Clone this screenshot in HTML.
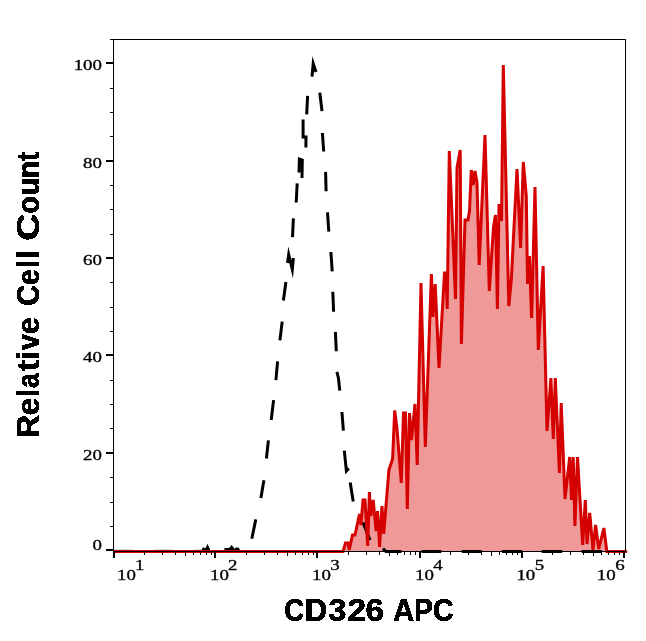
<!DOCTYPE html>
<html><head><meta charset="utf-8"><style>
html,body{margin:0;padding:0;background:#fff;}
svg{display:block;}
.tl{font-family:"Liberation Serif",serif;font-size:15px;fill:#000;stroke:#000;stroke-width:0.35px;}
.aa{opacity:0.999;}
.ttl{font-family:"Liberation Sans",sans-serif;font-weight:bold;font-size:31.45px;fill:#000;stroke:#000;stroke-width:0.63px;}
</style></head><body>
<svg width="646" height="641" viewBox="0 0 646 641">
<rect x="0" y="0" width="646" height="641" fill="#fff"/>
<defs><filter id="thr" x="-5%" y="-20%" width="110%" height="140%"><feComponentTransfer><feFuncA type="discrete" tableValues="0 1"/></feComponentTransfer></filter><clipPath id="pc"><rect x="114" y="30" width="526" height="524"/></clipPath></defs>
<path d="M343,551.5 L345.5,543 L348,543 L349.2,550 L352.5,535 L355,535 L359.5,514 L361,525 L363,500 L365,500 L367.7,546 L369.4,492 L370.8,516 L373.2,500 L376.1,531 L377.6,511 L379.6,547 L382,506 L383.7,534 L388.9,470 L392.6,459 L394.7,410.5 L396.9,428 L401.3,483 L403.5,413 L405.5,413 L407.3,509 L409.5,413 L411.5,440 L415,404 L417.2,465 L421,283 L425.3,447 L431.4,274 L433,317 L435.2,284 L439,368 L444.5,273 L446,273 L447.2,309 L449.3,151 L455.5,299 L457,168 L460.2,150 L461.4,344 L465,220 L468,220 L469.5,211 L471.3,170 L473.2,185 L475,171 L477,183 L479.2,265 L485,135 L489.3,291 L493.5,227 L495.5,215 L497.4,309 L499,204 L501.5,221 L503.3,65 L508.8,306 L511.3,280 L517,169 L520.6,248 L523.3,162 L526.3,196 L527.5,284 L529.4,256 L531.6,318 L535,187 L538.3,350 L543.1,266 L547,431 L550.9,378 L553.3,439 L555.3,378 L559.4,473 L561.2,403 L565,499 L569.7,457 L571.5,500 L573.2,457 L574.9,526 L577.5,457 L582.7,545 L585.3,500 L587,544 L589.7,513 L593,550 L595.6,525 L598.7,549 L603.9,528 L606.8,551.5 Z" fill="#ef9a98" stroke="none"/>
<path d="M251.8,538.7 L255.8,519.4 M260.9,498.1 L263.9,480.2 M266.4,458.5 L268.4,440.3 M271.2,420 L273.6,400.1 M275.9,380.2 L277.6,361.4 M279.9,340.4 L282.2,321.6 M283.4,300.5 L285.9,282 M287.5,263 L288.7,254.5 L292.3,269.5 L293.4,258 M292.5,237.1 L293.4,218.4 M296.2,202.5 L297.2,183.4 M299,172.5 L299.4,159 L302.3,160 L302,178 M303.1,119.5 L303.1,137 L306,137 L305.9,147.5 M307.6,95.9 L306.7,114.4 M312,76.7 L313.2,63.5 L316,72 M319.8,92.6 L322,111.1 M322.4,133 L323.7,151.5 M325.6,171.9 L326.1,191.3 M327.5,212.3 L328.8,231.6 M330.9,252 L332.2,271.4 M332.8,291.8 L333.6,311.7 M335.4,331.9 L336.3,351.2 M336.9,371.9 L338.4,377.9 L339.8,390.6 M341.9,412 L343.4,430.7 M344.3,450.6 L346.4,471 L348.8,468.3 M350.2,482.6 L353.2,501.6 M362.9,522.4 L370,540 M382.9,548.6 L386,551.5 L401.4,551.5 M421.6,551.5 L441.3,551.5 M461.8,551.5 L481.5,551.5 M502,551.5 L522,551.5 M541.7,551.5 L562.2,551.5 M581.7,551.5 L601.7,551.5" fill="none" stroke="#000" stroke-width="3" stroke-linejoin="miter" stroke-miterlimit="10" stroke-linecap="butt"/>
<g fill="#cddcdc" shape-rendering="crispEdges"><rect x="114" y="549" width="19" height="1"/><rect x="154" y="549" width="19" height="1"/><rect x="194" y="549" width="7" height="1"/></g>
<path d="M201.1,550.5 L202.4,548.2 L203.3,546.9 L204.6,548.3 L206,547.6 L207.4,543.8 L208.6,546.2 L209.9,549 L210.2,550.5 Z M224.2,550.5 L224.5,547.9 L229,547.9 L231.7,544.9 L233.6,547.6 L234.6,549 L235.8,547.6 L238.4,547.4 L240.6,550.5 Z" fill="#000"/>
<path d="M114,551.5 L343,551.5 L345.5,543 L348,543 L349.2,550 L352.5,535 L355,535 L359.5,514 L361,525 L363,500 L365,500 L367.7,546 L369.4,492 L370.8,516 L373.2,500 L376.1,531 L377.6,511 L379.6,547 L382,506 L383.7,534 L388.9,470 L392.6,459 L394.7,410.5 L396.9,428 L401.3,483 L403.5,413 L405.5,413 L407.3,509 L409.5,413 L411.5,440 L415,404 L417.2,465 L421,283 L425.3,447 L431.4,274 L433,317 L435.2,284 L439,368 L444.5,273 L446,273 L447.2,309 L449.3,151 L455.5,299 L457,168 L460.2,150 L461.4,344 L465,220 L468,220 L469.5,211 L471.3,170 L473.2,185 L475,171 L477,183 L479.2,265 L485,135 L489.3,291 L493.5,227 L495.5,215 L497.4,309 L499,204 L501.5,221 L503.3,65 L508.8,306 L511.3,280 L517,169 L520.6,248 L523.3,162 L526.3,196 L527.5,284 L529.4,256 L531.6,318 L535,187 L538.3,350 L543.1,266 L547,431 L550.9,378 L553.3,439 L555.3,378 L559.4,473 L561.2,403 L565,499 L569.7,457 L571.5,500 L573.2,457 L574.9,526 L577.5,457 L582.7,545 L585.3,500 L587,544 L589.7,513 L593,550 L595.6,525 L598.7,549 L603.9,528 L606.8,551.5 L626,551.5" fill="none" stroke="#d50000" stroke-width="3" stroke-linejoin="miter" stroke-miterlimit="2" stroke-linecap="round" clip-path="url(#pc)"/>
<g fill="#000" shape-rendering="crispEdges">
<rect x="110" y="39" width="516" height="1"/>
<rect x="625" y="39" width="1" height="513"/>
<rect x="113" y="39" width="1" height="513"/>
<rect x="113" y="551" width="513" height="1"/>
<rect x="106" y="549" width="7" height="2"/>
<rect x="110" y="526" width="3" height="1"/>
<rect x="110" y="502" width="3" height="1"/>
<rect x="110" y="477" width="3" height="1"/>
<rect x="106" y="452" width="7" height="2"/>
<rect x="110" y="428" width="3" height="1"/>
<rect x="110" y="404" width="3" height="1"/>
<rect x="110" y="380" width="3" height="1"/>
<rect x="106" y="354" width="7" height="2"/>
<rect x="110" y="331" width="3" height="1"/>
<rect x="110" y="307" width="3" height="1"/>
<rect x="110" y="282" width="3" height="1"/>
<rect x="106" y="257" width="7" height="2"/>
<rect x="110" y="234" width="3" height="1"/>
<rect x="110" y="209" width="3" height="1"/>
<rect x="110" y="185" width="3" height="1"/>
<rect x="106" y="160" width="7" height="2"/>
<rect x="110" y="136" width="3" height="1"/>
<rect x="110" y="112" width="3" height="1"/>
<rect x="110" y="88" width="3" height="1"/>
<rect x="106" y="62" width="7" height="2"/>
<rect x="110" y="39" width="3" height="1"/>
<rect x="113" y="551" width="2" height="7"/>
<rect x="144" y="551" width="1" height="4"/>
<rect x="162" y="551" width="1" height="4"/>
<rect x="175" y="551" width="1" height="4"/>
<rect x="185" y="551" width="1" height="5"/>
<rect x="193" y="551" width="1" height="4"/>
<rect x="200" y="551" width="1" height="4"/>
<rect x="206" y="551" width="1" height="4"/>
<rect x="211" y="551" width="1" height="4"/>
<rect x="214" y="551" width="2" height="7"/>
<rect x="246" y="551" width="1" height="4"/>
<rect x="264" y="551" width="1" height="4"/>
<rect x="277" y="551" width="1" height="4"/>
<rect x="287" y="551" width="1" height="5"/>
<rect x="295" y="551" width="1" height="4"/>
<rect x="302" y="551" width="1" height="4"/>
<rect x="308" y="551" width="1" height="4"/>
<rect x="313" y="551" width="1" height="4"/>
<rect x="316" y="551" width="2" height="7"/>
<rect x="348" y="551" width="1" height="4"/>
<rect x="366" y="551" width="1" height="4"/>
<rect x="379" y="551" width="1" height="4"/>
<rect x="389" y="551" width="1" height="5"/>
<rect x="397" y="551" width="1" height="4"/>
<rect x="404" y="551" width="1" height="4"/>
<rect x="410" y="551" width="1" height="4"/>
<rect x="415" y="551" width="1" height="4"/>
<rect x="419" y="551" width="2" height="7"/>
<rect x="450" y="551" width="1" height="4"/>
<rect x="468" y="551" width="1" height="4"/>
<rect x="481" y="551" width="1" height="4"/>
<rect x="491" y="551" width="1" height="5"/>
<rect x="499" y="551" width="1" height="4"/>
<rect x="506" y="551" width="1" height="4"/>
<rect x="512" y="551" width="1" height="4"/>
<rect x="517" y="551" width="1" height="4"/>
<rect x="521" y="551" width="2" height="7"/>
<rect x="552" y="551" width="1" height="4"/>
<rect x="570" y="551" width="1" height="4"/>
<rect x="583" y="551" width="1" height="4"/>
<rect x="593" y="551" width="1" height="5"/>
<rect x="601" y="551" width="1" height="4"/>
<rect x="608" y="551" width="1" height="4"/>
<rect x="614" y="551" width="1" height="4"/>
<rect x="619" y="551" width="1" height="4"/>
<rect x="623" y="551" width="2" height="7"/>
</g>
<g class="aa">
<text class="tl" transform="translate(102.00,460.00) scale(1.26,1)" text-anchor="end">20</text>
<text class="tl" transform="translate(102.00,362.00) scale(1.26,1)" text-anchor="end">40</text>
<text class="tl" transform="translate(102.00,265.00) scale(1.26,1)" text-anchor="end">60</text>
<text class="tl" transform="translate(102.00,168.00) scale(1.26,1)" text-anchor="end">80</text>
<text class="tl" transform="translate(102.00,70.00) scale(1.26,1)" text-anchor="end">100</text>
<text class="tl" transform="translate(102.00,550.00) scale(1.26,1)" text-anchor="end">0</text>
<text class="tl" transform="translate(117.00,580.20) scale(1.26,1)" text-anchor="start">10</text>
<text class="tl" transform="translate(135.00,570.10) scale(1.26,1)" text-anchor="start">1</text>
<text class="tl" transform="translate(210.10,580.20) scale(1.26,1)" text-anchor="start">10</text>
<text class="tl" transform="translate(228.04,570.10) scale(1.26,1)" text-anchor="start">2</text>
<text class="tl" transform="translate(312.05,580.20) scale(1.26,1)" text-anchor="start">10</text>
<text class="tl" transform="translate(330.24,570.10) scale(1.26,1)" text-anchor="start">3</text>
<text class="tl" transform="translate(415.00,580.20) scale(1.26,1)" text-anchor="start">10</text>
<text class="tl" transform="translate(433.14,570.10) scale(1.26,1)" text-anchor="start">4</text>
<text class="tl" transform="translate(516.40,580.20) scale(1.26,1)" text-anchor="start">10</text>
<text class="tl" transform="translate(534.64,570.10) scale(1.26,1)" text-anchor="start">5</text>
<text class="tl" transform="translate(596.80,580.20) scale(1.26,1)" text-anchor="start">10</text>
<text class="tl" transform="translate(615.14,570.10) scale(1.26,1)" text-anchor="start">6</text>
</g>
<g filter="url(#thr)">
<text class="ttl" transform="translate(284.27,620.6) scale(0.878,1)">C</text>
<text class="ttl" transform="translate(304.50,620.6) scale(1.004,1)">D</text>
<text class="ttl" transform="translate(328.38,620.6) scale(1.021,1)">3</text>
<text class="ttl" transform="translate(347.53,620.6) scale(1.066,1)">2</text>
<text class="ttl" transform="translate(365.60,620.6) scale(1.056,1)">6</text>
<text class="ttl" transform="translate(392.90,620.6) scale(0.940,1)">A</text>
<text class="ttl" transform="translate(413.89,620.6) scale(0.905,1)">P</text>
<text class="ttl" transform="translate(432.94,620.6) scale(0.911,1)">C</text>
<text class="ttl" transform="translate(38.9,437.57) rotate(-90) scale(0.992,1)">R</text>
<text class="ttl" transform="translate(38.9,415.55) rotate(-90) scale(1.011,1)">e</text>
<text class="ttl" transform="translate(38.9,397.05) rotate(-90) scale(0.874,1)">l</text>
<text class="ttl" transform="translate(38.9,387.99) rotate(-90) scale(0.850,1)">a</text>
<text class="ttl" transform="translate(38.9,371.10) rotate(-90) scale(1.031,1)">t</text>
<text class="ttl" transform="translate(38.9,360.30) rotate(-90) scale(1.113,1)">i</text>
<text class="ttl" transform="translate(38.9,350.01) rotate(-90) scale(0.909,1)">v</text>
<text class="ttl" transform="translate(38.9,333.90) rotate(-90) scale(0.954,1)">e</text>
<text class="ttl" transform="translate(38.9,305.87) rotate(-90) scale(0.921,1)">C</text>
<text class="ttl" transform="translate(38.9,285.05) rotate(-90) scale(0.897,1)">e</text>
<text class="ttl" transform="translate(38.9,267.54) rotate(-90) scale(0.850,1)">l</text>
<text class="ttl" transform="translate(38.9,258.46) rotate(-90) scale(0.934,1)">l</text>
<text class="ttl" transform="translate(38.9,240.83) rotate(-90) scale(1.196,1)">C</text>
<text class="ttl" transform="translate(38.9,213.67) rotate(-90) scale(0.925,1)">o</text>
<text class="ttl" transform="translate(38.9,195.79) rotate(-90) scale(0.948,1)">u</text>
<text class="ttl" transform="translate(38.9,178.32) rotate(-90) scale(0.909,1)">n</text>
<text class="ttl" transform="translate(38.9,160.81) rotate(-90) scale(0.850,1)">t</text>
</g>
</svg></body></html>
